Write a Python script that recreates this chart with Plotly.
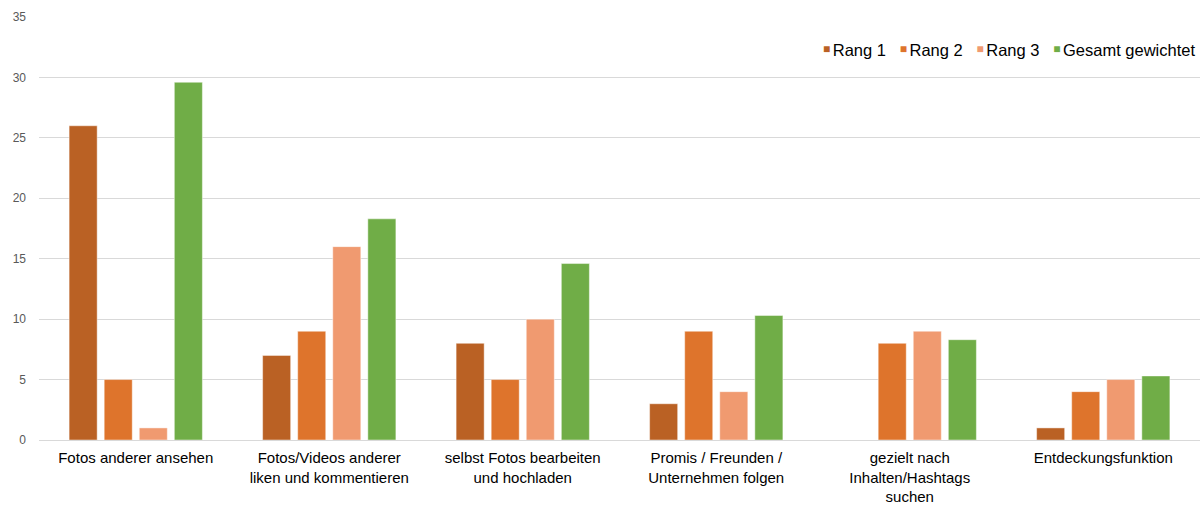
import plotly.graph_objects as go

categories = [
    "Fotos anderer ansehen",
    "Fotos/Videos anderer<br>liken und kommentieren",
    "selbst Fotos bearbeiten<br>und hochladen",
    "Promis / Freunden /<br>Unternehmen folgen",
    "gezielt nach<br>Inhalten/Hashtags<br>suchen",
    "Entdeckungsfunktion",
]
rang1 = [26, 7, 8, 3, 0, 1]
rang2 = [5, 9, 5, 9, 8, 4]
rang3 = [1, 16, 10, 4, 9, 5]
gesamt = [29.6, 18.3, 14.6, 10.3, 8.3, 5.3]

series = [
    ("Rang 1", rang1, "#BA6124"),
    ("Rang 2", rang2, "#DE742C"),
    ("Rang 3", rang3, "#F09A70"),
    ("Gesamt gewichtet", gesamt, "#70AD47"),
]

fig = go.Figure()
for name, vals, color in series:
    fig.add_trace(go.Bar(
        name=name, x=categories, y=vals, showlegend=False,
        marker=dict(color=color, line=dict(color="rgba(255,255,255,0.45)", width=1)),
    ))

# compact legend row: small coloured squares followed by the series names
nb = "\u00a0"
legend_parts = []
for name, _, color in series:
    legend_parts.append(
        f"<span style='font-size:12px;color:{color};baseline-shift:3px'>\u25A0</span>"
        f"<span style='font-size:9px'>{nb}</span>{name}"
    )
legend_text = (nb * 3).join(legend_parts)

fig.add_annotation(
    text=legend_text, xref="paper", yref="paper", x=1, y=0.922,
    xanchor="right", yanchor="middle", xshift=-3, showarrow=False,
    font=dict(size=16.5, color="#000000", family="Liberation Sans, Arial, sans-serif"),
)

fig.update_layout(
    width=1200, height=507,
    margin=dict(l=39, r=0, t=17, b=67, autoexpand=False),
    paper_bgcolor="white", plot_bgcolor="white",
    barmode="group", bargap=0.275, bargroupgap=0.2,
    font=dict(family="Liberation Sans, Arial, sans-serif", color="#000000"),
    showlegend=False,
)
fig.update_yaxes(
    range=[0, 35], dtick=5, showgrid=True, gridcolor="#D9D9D9", gridwidth=1,
    zeroline=True, zerolinecolor="#D9D9D9", zerolinewidth=1,
    tickfont=dict(size=12, color="#595959"), ticks="", ticklen=0,
    ticklabelstandoff=12, showline=False, fixedrange=True, automargin=False,
)
fig.update_xaxes(
    tickfont=dict(size=15, color="#000000"), showline=False, ticks="",
    tickangle=0, ticklabelstandoff=7, automargin=False,
)

fig.write_html("out.html")
